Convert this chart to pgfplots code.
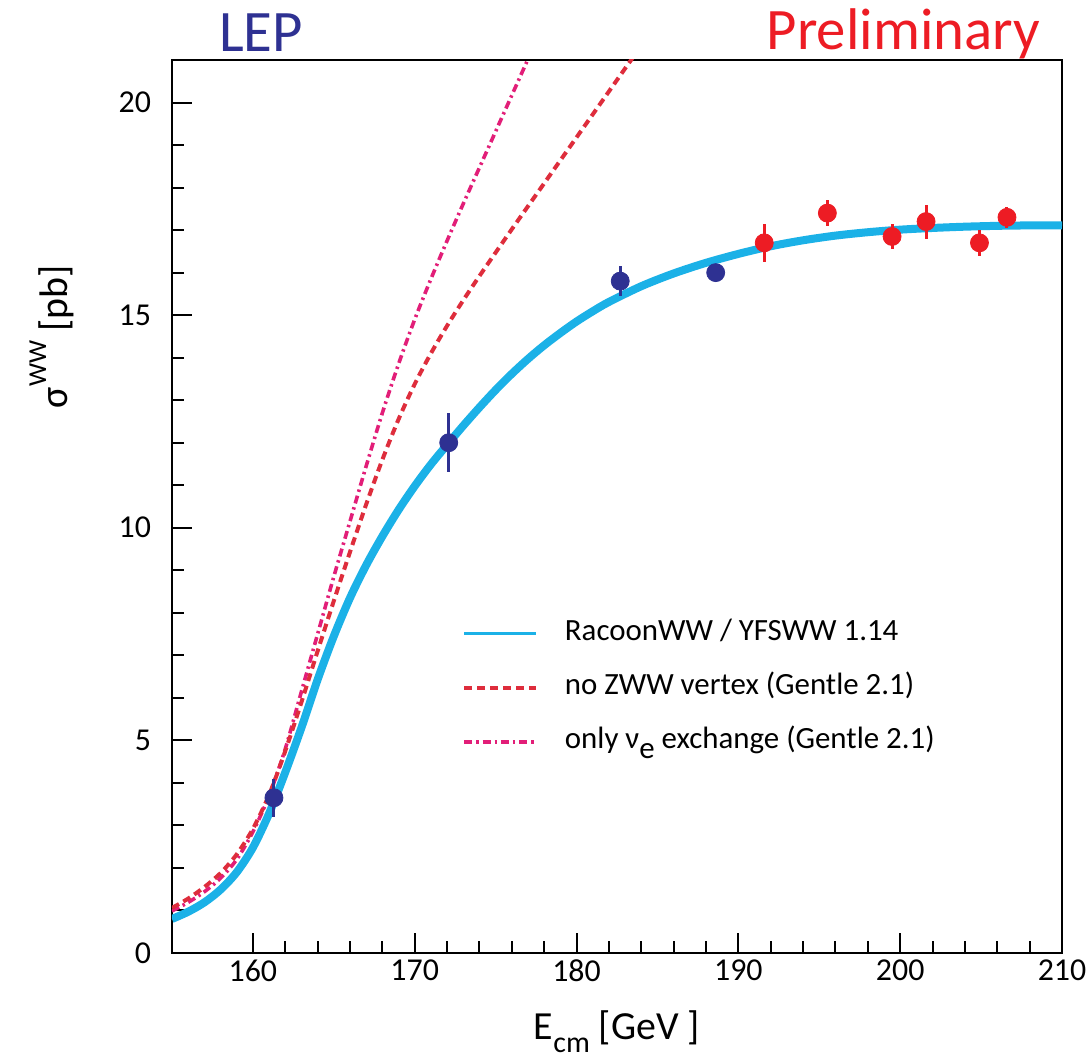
\documentclass[border=0pt]{standalone}
\usepackage{fontspec}
\setmainfont{Carlito}
\usepackage{pgfplots}
\usepackage{pgfplotstable}
\pgfplotsset{compat=1.18}

\definecolor{racooncyan}{RGB}{27,177,231}
\definecolor{zwwred}{RGB}{222,45,60}
\definecolor{numag}{RGB}{226,30,120}
\definecolor{lepblue}{RGB}{46,49,146}
\definecolor{lepred}{RGB}{237,28,36}

% RacoonWW / YFSWW 1.14
\pgfplotstableread{
E sigma
155 0.80
156 0.97
157 1.19
158 1.49
159 1.90
160 2.48
161 3.28
162 4.25
163 5.30
164 6.43
165 7.45
166 8.35
167 9.12
168 9.80
169 10.42
170 10.98
171 11.49
172 11.95
173 12.40
174 12.83
175 13.24
176 13.62
177 13.97
178 14.29
179 14.58
180 14.85
181 15.09
182 15.31
184 15.68
186 15.98
188 16.23
190 16.44
192 16.62
194 16.76
196 16.87
198 16.95
200 17.01
202 17.05
204 17.08
206 17.10
208 17.11
210 17.11
}\tabracoon

% no ZWW vertex
\pgfplotstableread{
E sigma
155 1.06
156 1.28
157 1.55
158 1.88
159 2.32
160 2.92
161 3.72
162 4.75
163 5.90
164 7.10
165 8.28
166 9.43
167 10.55
168 11.60
169 12.55
170 13.38
171 14.10
172 14.75
173 15.35
174 15.92
176 17.02
178 18.10
180 19.18
182 20.26
184 21.34
}\tabzww

% only nu_e exchange
\pgfplotstableread{
E sigma
155 0.99
156 1.19
157 1.44
158 1.76
159 2.20
160 2.85
161 3.70
162 4.80
163 6.15
164 7.50
165 8.85
166 10.15
167 11.45
168 12.70
169 13.85
170 14.90
171 15.85
172 16.75
173 17.62
174 18.47
175 19.32
176 20.17
177 21.02
178 21.87
}\tabnue

\pgfplotstableread{
E sigma err
161.3 3.65 0.45
172.1 12.00 0.70
182.7 15.80 0.35
188.6 16.00 0.15
}\tabblue

\pgfplotstableread{
E sigma err
191.6 16.70 0.45
195.5 17.40 0.30
199.5 16.85 0.30
201.6 17.20 0.40
204.9 16.70 0.30
206.6 17.30 0.25
}\tabred

\begin{document}
\begin{tikzpicture}
\begin{axis}[
    scale only axis,
    width=445bp, height=446.5bp,
    xmin=155, xmax=210, ymin=0, ymax=21,
    xtick={160,170,...,210}, ytick={0,5,...,20},
    minor x tick num=4, minor y tick num=4,
    xtick pos=bottom, ytick pos=left,
    tick align=inside,
    major tick length=10bp, minor tick length=6bp,
    axis line style={line width=1bp},
    every tick/.style={black, line width=1bp},
    /pgf/number format/assume math mode=true,
    tick label style={font=\fontsize{16}{16}\selectfont},
    yticklabel style={xshift=-7bp},
    xlabel={E\raisebox{-0.35em}{\fontsize{15}{15}\selectfont cm} [GeV ]},
    xlabel style={font=\fontsize{20}{20}\selectfont, at={(axis description cs:0.5,0)}, anchor=base, yshift=-43bp},
    ylabel={σ\raisebox{0.55em}{\fontsize{13}{13}\selectfont WW} [pb]},
    ylabel style={font=\fontsize{20}{20}\selectfont, at={(axis description cs:-0.1169,0.69)}, anchor=base},
    legend style={at={(rel axis cs:0.3258,0.3746)}, anchor=north west, draw=none, fill=none,
        inner sep=0pt, row sep=12bp,
        font=\fontsize{15.5}{16}\selectfont,
        nodes={inner sep=0pt, text height=11bp, text depth=4bp},
        /tikz/every odd column/.append style={column sep=13.5bp}},
    legend cell align=left,
    legend image code/.code={\draw[#1] (0bp,0bp) -- (36bp,0bp);},
]
\addplot[numag, line width=1.8bp, dash pattern=on 4bp off 2bp on 1.2bp off 2bp, smooth, forget plot] table[x=E, y=sigma] {\tabnue};
\addplot[zwwred, line width=2bp, dash pattern=on 4bp off 2.5bp, smooth, forget plot] table[x=E, y=sigma] {\tabzww};
\addplot[racooncyan, line width=4bp, smooth, forget plot] table[x=E, y=sigma] {\tabracoon};

\addplot[lepblue, only marks, mark=*, mark size=4.5bp, forget plot,
    error bars/.cd, y dir=both, y explicit, error mark=none,
    error bar style={line width=1.5bp}]
    table[x=E, y=sigma, y error=err] {\tabblue};
\addplot[lepred, only marks, mark=*, mark size=4.5bp, forget plot,
    error bars/.cd, y dir=both, y explicit, error mark=none,
    error bar style={line width=1.5bp}]
    table[x=E, y=sigma, y error=err] {\tabred};

\addlegendimage{racooncyan, line width=1.5bp}
\addlegendentry{RacoonWW / YFSWW 1.14}
\addlegendimage{zwwred, line width=1.8bp, dash pattern=on 4bp off 2.5bp}
\addlegendentry{no ZWW vertex (Gentle 2.1)}
\addlegendimage{numag, line width=1.8bp, dash pattern=on 4bp off 2bp on 1.2bp off 2bp}
\addlegendentry{only ν\raisebox{-5bp}{e} exchange (Gentle 2.1)}
\end{axis}
\node[anchor=base, text=lepblue, font=\fontsize{29.5}{30}\selectfont]
    at ([xshift=44.5bp, yshift=4bp]current axis.north west) {LEP};
\node[anchor=base east, text=lepred, font=\fontsize{29.5}{30}\selectfont]
    at ([xshift=-7.5bp, yshift=5bp]current axis.north east) {Preliminary};
\pgfresetboundingbox
\path ([shift={(-86bp,-52.5bp)}]current axis.south west) rectangle ([shift={(15bp,30bp)}]current axis.north east);
\end{tikzpicture}
\end{document}
